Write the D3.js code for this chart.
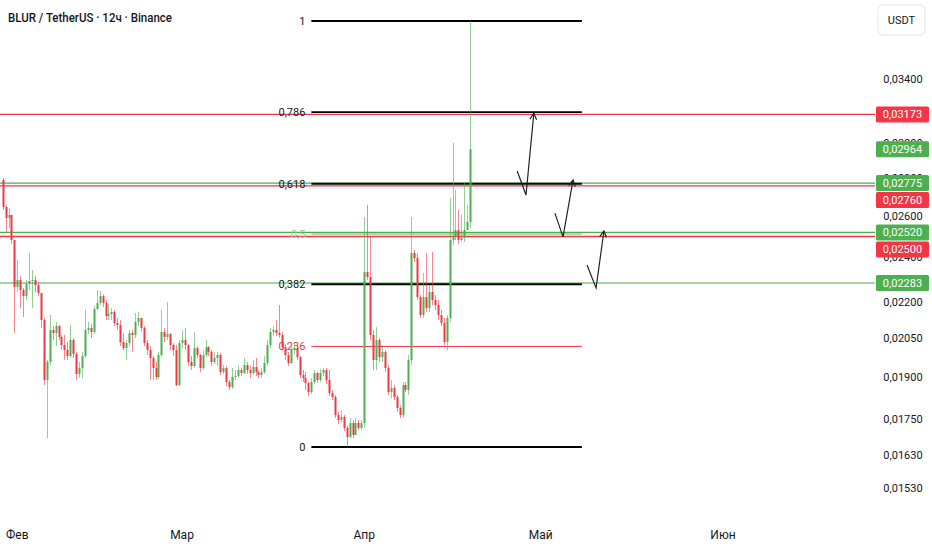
<!DOCTYPE html>
<html><head><meta charset="utf-8">
<script src="https://cdn.jsdelivr.net/npm/d3@7/dist/d3.min.js"></script>
<style>
html,body{margin:0;padding:0;background:#fff;}
svg{display:block;font-family:Roboto,"Noto Sans",sans-serif;}
</style></head>
<body>
<svg id="chart" width="932" height="550"></svg>
<script>
// ---------- DATA ----------
const title = "BLUR / TetherUS · 12ч · Binance";
const currency = "USDT";
const candleStart = "2026-01-29T12:00:00Z"; // 12h candles
const firstOpen = 0.027915;
const closes = [
0.026482,0.025919,0.026072,0.024829,0.022656,0.022964,0.022520,0.022256,0.022788,0.022920,0.022964,0.022744,0.022388,0.021239,0.018891,0.019567,
0.020828,0.020708,0.020993,0.020548,
0.020225,
0.020030,0.019796,0.020425,0.019874,0.019115,
0.019339,
0.019796,0.020828,0.020911,0.020748,0.021701,0.021956,0.022256,0.021956,0.021406,0.021490,0.021574,0.021116,0.021034,0.020345,0.020105,0.020305,0.020708,0.020628,0.021157,
0.021323,
0.020911,0.020305,0.020030,0.019718,0.019339,0.019002,0.019835,0.020748,0.020548,0.020668,0.020225,0.020030,0.018706,0.020305,0.020425,0.020225,0.019567,
0.019415,
0.020105,0.019835,0.019339,0.019835,0.020145,0.019952,0.019567,
0.019718,
0.019835,0.019189,0.019339,0.018817,0.018632,0.019002,0.019041,0.019263,0.019152,0.019453,0.019263,0.019152,0.019377,0.019189,0.019078,0.019189,0.019529,0.020225,0.020748,0.020828,0.020708,0.020628,0.020145,0.019835,0.019529,0.020030,0.020105,0.019757,0.019078,
0.018967,
0.018780,0.018454,0.018817,0.019152,0.018891,0.019152,0.019263,
0.018891,
0.018418,0.018275,0.017641,0.017471,0.017576,0.017202,0.016902,0.017369,0.016968,0.017369,0.017202,0.017369,0.023327,0.023097,0.020628,0.019643,0.020425,0.019757,0.019952,0.019339,0.018454,0.018599,0.018275,0.017886,0.017641,0.018706,0.018526,0.019643,0.024208,0.023973,0.022212,0.021448,0.022212,0.021741,0.022432,0.022085,0.021870,0.021448,0.021116,0.020345,0.021323,0.024829,0.024976,0.025319,0.024829,0.024927,0.025319,0.025718,0.029640
];
const highs = [
0.028026,0.026586,0.026430,0.026072,0.024829,0.023879,0.023147,0.022612,0.022964,0.024208,0.023417,0.023147,0.022876,0.022388,0.021323,0.019643,
0.021448,0.020993,0.021157,0.021034,
0.020628,
0.020628,0.020345,0.021034,0.020505,0.019952,
0.019567,
0.019952,0.021658,0.021157,0.021075,0.021827,0.022520,0.022476,0.022344,0.022085,0.021913,0.021741,0.021658,0.021323,0.021239,0.020708,0.020425,0.020828,0.020828,0.021532,
0.021574,
0.021323,0.020993,0.020425,0.020185,0.019796,0.019567,0.019952,0.021658,0.020911,0.021999,0.020708,0.020305,0.020225,0.020425,0.020828,0.020911,0.020265,
0.019796,
0.020748,0.020185,0.019874,0.020030,0.020425,0.020185,0.020030,
0.019952,
0.019952,0.019913,0.019453,0.019415,0.018891,0.019339,0.019263,0.019453,0.019339,0.019718,0.019567,0.019415,0.019643,0.019718,0.019263,0.019339,0.019796,0.020425,0.020911,0.020993,0.021239,0.021870,0.020748,0.020265,0.019952,0.020225,0.020345,0.020225,0.019796,
0.019263,
0.019189,0.018817,0.018967,0.019263,0.019189,0.019301,0.019339,
0.019339,
0.019263,0.018526,0.018346,0.017746,0.017816,0.017641,0.017270,0.017541,0.017471,0.017541,0.017471,0.017471,0.025971,0.026586,0.024976,0.020828,0.020952,0.020505,0.020225,0.020030,0.019453,0.018891,0.018706,0.018346,0.017991,0.018817,0.018817,0.019835,0.025971,0.024349,0.024208,0.022300,0.023282,0.024208,0.022744,0.024255,0.022300,0.022085,0.021658,0.021323,0.021448,0.026950,0.030009,0.027376,0.026327,0.026072,0.027753,0.026586,0.038077
];
const lows = [
0.026327,0.025221,0.025418,0.024637,0.020708,0.022432,0.021741,0.021364,0.022085,0.022520,0.021741,0.022432,0.022256,0.020910,0.018706,0.016868,
0.019453,0.020425,0.020185,0.020425,
0.020030,
0.019643,0.019643,0.019718,0.019718,0.018891,
0.018967,
0.018967,0.019718,0.020668,0.020505,0.020668,0.021658,0.021870,0.021784,0.021239,0.021239,0.021239,0.020993,0.020828,0.020185,0.020030,0.019643,0.020185,0.019952,0.020505,
0.020993,
0.020748,0.020185,0.019835,0.018891,0.018891,0.018891,0.018928,0.019757,0.020345,0.020425,0.020030,0.019796,0.018669,0.018669,0.020105,0.020030,0.019415,
0.019263,
0.019339,0.019718,0.019189,0.019263,0.019757,0.019796,0.019415,
0.019491,
0.019415,0.019078,0.019115,0.018669,0.018526,0.018563,0.018891,0.018967,0.019041,0.019115,0.019115,0.018967,0.019078,0.019041,0.018967,0.018967,0.019115,0.019415,0.020105,0.020588,0.020588,0.020505,0.020030,0.019643,0.019415,0.019491,0.019874,0.019643,0.018967,
0.018817,
0.018526,0.018311,0.018382,0.018743,0.018780,0.018817,0.019041,
0.018743,
0.018311,0.018167,0.017541,0.017335,0.017369,0.017101,0.016575,0.016868,0.016868,0.016968,0.017134,0.017134,0.017202,0.022964,0.020425,0.019263,0.019263,0.019567,0.019567,0.019189,0.018346,0.018239,0.018167,0.017746,0.017541,0.017541,0.018454,0.018346,0.019453,0.023787,0.022085,0.021323,0.021323,0.021574,0.021574,0.021870,0.021658,0.021239,0.020993,0.020225,0.020030,0.021157,0.024589,0.024829,0.024637,0.024733,0.024733,0.025418,0.025418
];
const lastPrice = 0.02964;
const redLevels = [0.03173, 0.02760, 0.02500];
const greenLevels = [0.02775, 0.02520, 0.02283];
const priceTicks = [0.034, 0.030, 0.028, 0.026, 0.024, 0.022, 0.0205, 0.019, 0.0175, 0.0163, 0.0153];
const monthTicks = ["2026-02-01","2026-03-01","2026-04-01","2026-05-01","2026-06-01"];
const monthNames = ["Фев","Мар","Апр","Май","Июн"];
const fibLow = 0.016575, fibHigh = 0.038077;
const fibStart = "2026-03-23T00:00:00Z", fibEnd = "2026-05-08T00:00:00Z";
const fibLevels = [0, 0.236, 0.382, 0.5, 0.618, 0.786, 1];
const fibLabels = ["0", "0,236", "0,382", "0,5", "0,618", "0,786", "1"];
const arrows = [
  [["2026-04-27T00:00:00Z",0.02841],["2026-04-28T12:00:00Z",0.02711],["2026-04-29T20:00:00Z",0.03180]],
  [["2026-05-03T10:00:00Z",0.02617],["2026-05-04T19:00:00Z",0.02498],["2026-05-06T12:00:00Z",0.02791]],
  [["2026-05-08T21:00:00Z",0.02365],["2026-05-10T10:00:00Z",0.02261],["2026-05-11T18:00:00Z",0.02527]]
];

// ---------- STYLE ----------
const UP = "#4caf50", DOWN = "#f23645", TXT = "#131722";
const svg = d3.select("#chart");
const x = d3.scaleUtc()
  .domain([new Date("2026-03-01T00:00:00Z"), new Date("2026-06-01T00:00:00Z")])
  .range([182, 723]);
const y = d3.scaleLog().domain([0.034, 0.0153]).range([79, 488]);
const plotRight = 875;

const t0 = new Date(candleStart).getTime();
const candles = closes.map((c, i) => ({
  t: new Date(t0 + i * 12 * 3600 * 1000),
  o: i === 0 ? firstOpen : closes[i - 1],
  h: highs[i], l: lows[i], c: c
}));

// full-width horizontal levels
const levels = redLevels.map(v => ({v, col: DOWN})).concat(greenLevels.map(v => ({v, col: UP})));
svg.append("g").selectAll("line").data(levels).join("line")
  .attr("x1", 0).attr("x2", plotRight)
  .attr("y1", d => y(d.v)).attr("y2", d => y(d.v))
  .attr("stroke", d => d.col).attr("stroke-width", 1.3)
  .attr("stroke-opacity", d => d.v === 0.02283 ? 0.7 : 1);

// fib retracement (log space)
const fibPrice = lv => Math.exp(Math.log(fibLow) + lv * (Math.log(fibHigh) - Math.log(fibLow)));
const fibColor = lv => lv === 0.236 ? DOWN : (lv === 0.5 ? "#8fcf92" : "#000");
const fg = svg.append("g");
fg.selectAll("line").data(fibLevels).join("line")
  .attr("x1", x(new Date(fibStart))).attr("x2", x(new Date(fibEnd)))
  .attr("y1", d => y(fibPrice(d))).attr("y2", d => y(fibPrice(d)))
  .attr("stroke", fibColor)
  .attr("stroke-width", d => d === 0.236 ? 1 : (d === 0.5 ? 1.5 : 1.8));

// candles
const cg = svg.append("g");
const bw = 2;
cg.selectAll("line").data(candles).join("line")
  .attr("x1", d => Math.round(x(d.t)) + 0.5).attr("x2", d => Math.round(x(d.t)) + 0.5)
  .attr("y1", d => y(d.h)).attr("y2", d => y(d.l))
  .attr("stroke", d => d.c >= d.o ? UP : DOWN).attr("stroke-opacity", 0.6).attr("stroke-width", 1);
cg.selectAll("rect").data(candles).join("rect")
  .attr("x", d => Math.round(x(d.t)) - 0.5).attr("width", bw)
  .attr("y", d => Math.min(y(d.o), y(d.c)))
  .attr("height", d => Math.max(1, Math.abs(y(d.o) - y(d.c))))
  .attr("fill", d => d.c >= d.o ? UP : DOWN);

// fib labels (drawn above candles)
fg.selectAll("text").data(fibLevels).join("text")
  .attr("x", x(new Date(fibStart)) - 6).attr("y", d => y(fibPrice(d)))
  .attr("dy", "0.35em").attr("text-anchor", "end")
  .attr("font-size", 11).attr("fill", d => d === 0.236 ? DOWN : (d === 0.5 ? "#8fcf92" : TXT))
  .text((d, i) => fibLabels[i]);

// arrows
const ag = svg.append("g").attr("fill", "none").attr("stroke", "#222").attr("stroke-width", 1.2);
arrows.forEach(a => {
  const pts = a.map(p => [x(new Date(p[0])), y(p[1])]);
  ag.append("path").attr("d", d3.line()(pts));
  const [x1, y1] = pts[pts.length - 2], [x2, y2] = pts[pts.length - 1];
  const ang = Math.atan2(y2 - y1, x2 - x1);
  const L = 7, s = 0.5;
  const hd = [[x2 - L * Math.cos(ang - s), y2 - L * Math.sin(ang - s)], [x2, y2],
              [x2 - L * Math.cos(ang + s), y2 - L * Math.sin(ang + s)]];
  ag.append("path").attr("d", d3.line()(hd));
});

// price axis tick labels
const fmt = v => v.toFixed(5).replace(".", ",");
svg.append("g").selectAll("text").data(priceTicks).join("text")
  .attr("x", 903).attr("y", d => y(d)).attr("dy", "0.35em").attr("text-anchor", "middle")
  .attr("font-size", 11).attr("fill", TXT).text(fmt);

// price label boxes (with collision push-down)
const boxes = levels.map(d => ({v: d.v, col: d.col})).concat([{v: lastPrice, col: UP}])
  .sort((a, b) => y(a.v) - y(b.v));
const bh = 16;
let prev = -Infinity;
boxes.forEach(b => { let cy = y(b.v); if (cy < prev + bh + 1) cy = prev + bh + 1; b.cy = cy; prev = cy; });
const bg = svg.append("g");
bg.selectAll("rect").data(boxes).join("rect")
  .attr("x", 876).attr("width", 53).attr("y", d => d.cy - bh / 2).attr("height", bh)
  .attr("rx", 1.5).attr("fill", d => d.col);
bg.selectAll("text").data(boxes).join("text")
  .attr("x", 902.5).attr("y", d => d.cy).attr("dy", "0.35em").attr("text-anchor", "middle")
  .attr("font-size", 11).attr("fill", "#fff").text(d => fmt(d.v));

// currency button
svg.append("rect").attr("x", 878).attr("y", 5).attr("width", 47).attr("height", 30).attr("rx", 5)
  .attr("fill", "#fff").attr("stroke", "#e0e3eb");
svg.append("text").attr("x", 901.5).attr("y", 20).attr("dy", "0.35em").attr("text-anchor", "middle")
  .attr("font-size", 11).attr("fill", TXT).text(currency);

// time axis
svg.append("g").selectAll("text").data(monthTicks).join("text")
  .attr("x", d => x(new Date(d + "T00:00:00Z"))).attr("y", 535).attr("dy", "0.35em")
  .attr("text-anchor", "middle").attr("font-size", 12).attr("fill", TXT)
  .text((d, i) => monthNames[i]);

// title
svg.append("text").attr("x", 8).attr("y", 17).attr("dy", "0.35em")
  .attr("font-size", 13).attr("font-weight", 500).attr("fill", TXT)
  .attr("textLength", 164).attr("lengthAdjust", "spacingAndGlyphs").text(title);
</script>
</body></html>
